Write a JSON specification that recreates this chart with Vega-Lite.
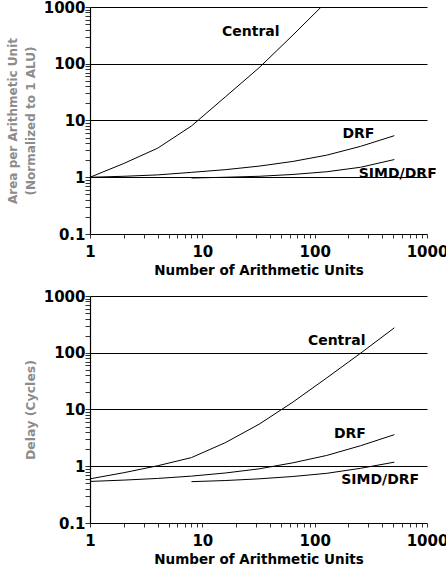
{
  "$schema": "https://vega.github.io/schema/vega-lite/v6.json",
  "padding": {"left": 6, "top": 0, "right": 0, "bottom": 0},
  "spacing": 12,
  "datasets": {
    "area": [
      {"s": "Central", "x": 1, "y": 1}, {"s": "Central", "x": 2, "y": 1.75}, {"s": "Central", "x": 4, "y": 3.25},
      {"s": "Central", "x": 8, "y": 8}, {"s": "Central", "x": 16, "y": 26}, {"s": "Central", "x": 32, "y": 85},
      {"s": "Central", "x": 64, "y": 320}, {"s": "Central", "x": 128, "y": 1250},
      {"s": "DRF", "x": 1, "y": 1}, {"s": "DRF", "x": 2, "y": 1.04}, {"s": "DRF", "x": 4, "y": 1.1},
      {"s": "DRF", "x": 8, "y": 1.22}, {"s": "DRF", "x": 16, "y": 1.36}, {"s": "DRF", "x": 32, "y": 1.57},
      {"s": "DRF", "x": 64, "y": 1.9}, {"s": "DRF", "x": 128, "y": 2.45}, {"s": "DRF", "x": 256, "y": 3.5},
      {"s": "DRF", "x": 512, "y": 5.4},
      {"s": "SIMD/DRF", "x": 8, "y": 0.97}, {"s": "SIMD/DRF", "x": 16, "y": 1.0}, {"s": "SIMD/DRF", "x": 32, "y": 1.04},
      {"s": "SIMD/DRF", "x": 64, "y": 1.12}, {"s": "SIMD/DRF", "x": 128, "y": 1.25}, {"s": "SIMD/DRF", "x": 256, "y": 1.5},
      {"s": "SIMD/DRF", "x": 512, "y": 2.05}
    ],
    "delay": [
      {"s": "Central", "x": 1, "y": 0.6}, {"s": "Central", "x": 2, "y": 0.77}, {"s": "Central", "x": 4, "y": 1.02},
      {"s": "Central", "x": 8, "y": 1.42}, {"s": "Central", "x": 16, "y": 2.6}, {"s": "Central", "x": 32, "y": 5.5},
      {"s": "Central", "x": 64, "y": 13.5}, {"s": "Central", "x": 128, "y": 36}, {"s": "Central", "x": 256, "y": 98},
      {"s": "Central", "x": 512, "y": 275},
      {"s": "DRF", "x": 1, "y": 0.54}, {"s": "DRF", "x": 2, "y": 0.57}, {"s": "DRF", "x": 4, "y": 0.61},
      {"s": "DRF", "x": 8, "y": 0.67}, {"s": "DRF", "x": 16, "y": 0.76}, {"s": "DRF", "x": 32, "y": 0.9},
      {"s": "DRF", "x": 64, "y": 1.15}, {"s": "DRF", "x": 128, "y": 1.55}, {"s": "DRF", "x": 256, "y": 2.3},
      {"s": "DRF", "x": 512, "y": 3.6},
      {"s": "SIMD/DRF", "x": 8, "y": 0.535}, {"s": "SIMD/DRF", "x": 16, "y": 0.56}, {"s": "SIMD/DRF", "x": 32, "y": 0.6},
      {"s": "SIMD/DRF", "x": 64, "y": 0.66}, {"s": "SIMD/DRF", "x": 128, "y": 0.75}, {"s": "SIMD/DRF", "x": 256, "y": 0.92},
      {"s": "SIMD/DRF", "x": 512, "y": 1.18}
    ],
    "areaLabels": [
      {"x": 27, "y": 360, "text": "Central"},
      {"x": 245, "y": 5.75, "text": "DRF"},
      {"x": 549, "y": 1.16, "text": "SIMD/DRF"}
    ],
    "delayLabels": [
      {"x": 157, "y": 163, "text": "Central"},
      {"x": 206, "y": 3.67, "text": "DRF"},
      {"x": 383, "y": 0.566, "text": "SIMD/DRF"}
    ]
  },
  "vconcat": [
    {
      "width": 337,
      "height": 227,
      "encoding": {
        "x": {"field": "x", "type": "quantitative",
          "scale": {"type": "log", "domain": [1, 1000]},
          "axis": {"title": "Number of Arithmetic Units",
            "values": [1,2,3,4,5,6,7,8,9,10,20,30,40,50,60,70,80,90,100,200,300,400,500,600,700,800,900,1000],
            "format": "~g",
            "labelExpr": "indexof([1,10,100,1000], datum.value) >= 0 ? datum.label : ''",
            "ticks": true, "tickSize": 4, "tickColor": "#333333", "tickWidth": 1, "tickOpacity": 1,
            "labelPadding": 6, "titlePadding": 4, "grid": false}},
        "y": {"field": "y", "type": "quantitative",
          "scale": {"type": "log", "domain": [0.1, 1000]},
          "axis": {"title": ["Area per Arithmetic Unit", "(Normalized to 1 ALU)"],
            "values": [0.1,0.2,0.3,0.4,0.5,0.6,0.7,0.8,0.9,1,2,3,4,5,6,7,8,9,10,20,30,40,50,60,70,80,90,100,200,300,400,500,600,700,800,900,1000],
            "format": "~g",
            "labelExpr": "indexof([0.1,1,10,100,1000], datum.value) >= 0 ? datum.label : ''",
            "ticks": true, "tickSize": 5, "tickColor": "#333333", "tickWidth": 1, "tickOpacity": 1,
            "grid": true,
            "gridOpacity": {"condition": {"test": "indexof([1,10,100,1000], datum.value) >= 0", "value": 1}, "value": 0},
            "titleFontSize": 12, "titleLineHeight": 18}}
      },
      "layer": [
        {
          "data": {"name": "area"},
          "mark": {"type": "line", "color": "black", "strokeWidth": 1, "clip": true},
          "encoding": {"detail": {"field": "s"}}
        },
        {
          "data": {"name": "areaLabels"},
          "mark": {"type": "text", "font": "DejaVu Sans", "fontWeight": "bold", "fontSize": 14, "color": "black", "align": "center", "baseline": "middle"},
          "encoding": {"text": {"field": "text"}}
        }
      ]
    },
    {
      "width": 337,
      "height": 227,
      "encoding": {
        "x": {"field": "x", "type": "quantitative",
          "scale": {"type": "log", "domain": [1, 1000]},
          "axis": {"title": "Number of Arithmetic Units",
            "values": [1,2,3,4,5,6,7,8,9,10,20,30,40,50,60,70,80,90,100,200,300,400,500,600,700,800,900,1000],
            "format": "~g",
            "labelExpr": "indexof([1,10,100,1000], datum.value) >= 0 ? datum.label : ''",
            "ticks": true, "tickSize": 4, "tickColor": "#333333", "tickWidth": 1, "tickOpacity": 1,
            "labelPadding": 6, "titlePadding": 4, "grid": false}},
        "y": {"field": "y", "type": "quantitative",
          "scale": {"type": "log", "domain": [0.1, 1000]},
          "axis": {"title": "Delay (Cycles)",
            "values": [0.1,0.2,0.3,0.4,0.5,0.6,0.7,0.8,0.9,1,2,3,4,5,6,7,8,9,10,20,30,40,50,60,70,80,90,100,200,300,400,500,600,700,800,900,1000],
            "format": "~g",
            "labelExpr": "indexof([0.1,1,10,100,1000], datum.value) >= 0 ? datum.label : ''",
            "ticks": true, "tickSize": 5, "tickColor": "#333333", "tickWidth": 1, "tickOpacity": 1,
            "grid": true,
            "gridOpacity": {"condition": {"test": "indexof([1,10,100,1000], datum.value) >= 0", "value": 1}, "value": 0},
            "titleFontSize": 12.5}}
      },
      "layer": [
        {
          "data": {"name": "delay"},
          "mark": {"type": "line", "color": "black", "strokeWidth": 1, "clip": true},
          "encoding": {"detail": {"field": "s"}}
        },
        {
          "data": {"name": "delayLabels"},
          "mark": {"type": "text", "font": "DejaVu Sans", "fontWeight": "bold", "fontSize": 14, "color": "black", "align": "center", "baseline": "middle"},
          "encoding": {"text": {"field": "text"}}
        }
      ]
    }
  ],
  "config": {
    "view": {"stroke": null},
    "axis": {
      "domainColor": "black", "domainWidth": 1.2,
      "gridColor": "black", "gridWidth": 1,
      "labelFont": "DejaVu Sans", "labelFontWeight": "bold", "labelFontSize": 15, "labelColor": "black",
      "labelOverlap": false, "labelFlush": false,
      "titleFont": "DejaVu Sans", "titleFontWeight": "bold", "titleColor": "black", "titleFontSize": 13.5
    },
    "axisY": {"labelPadding": 0, "titlePadding": 6, "titleColor": "#8c8c8c"}
  }
}
